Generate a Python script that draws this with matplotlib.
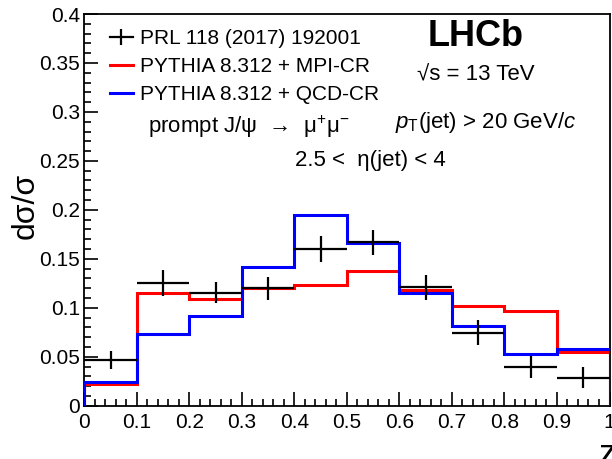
import matplotlib
matplotlib.use("Agg")
import matplotlib.pyplot as plt
from matplotlib.lines import Line2D
from matplotlib.ticker import MultipleLocator
import numpy as np

plt.rcParams['font.family'] = ['Liberation Sans', 'DejaVu Sans']
plt.rcParams['mathtext.fontset'] = 'custom'
plt.rcParams['mathtext.rm'] = 'Liberation Sans'
plt.rcParams['mathtext.it'] = 'Liberation Sans:italic'
plt.rcParams['mathtext.bf'] = 'Liberation Sans:bold'

# ---- data ----
bin_edges = [0.0, 0.1, 0.2, 0.3, 0.4, 0.5, 0.6, 0.7, 0.8, 0.9, 1.0]
data_vals = [0.0466, 0.1255, 0.1153, 0.1198, 0.1600, 0.1667, 0.1208, 0.0745, 0.0392, 0.0286]
data_errs = [0.0095, 0.0130, 0.0107, 0.0120, 0.0136, 0.0128, 0.0129, 0.0129, 0.0114, 0.0110]
mpi_cr = [0.0218, 0.1150, 0.1086, 0.1200, 0.1230, 0.1378, 0.1180, 0.1017, 0.0970, 0.0551]
qcd_cr = [0.0245, 0.0732, 0.0915, 0.1418, 0.1946, 0.1663, 0.1147, 0.0817, 0.0528, 0.0579]

label_data = "PRL 118 (2017) 192001"
label_mpi = "PYTHIA 8.312 + MPI-CR"
label_qcd = "PYTHIA 8.312 + QCD-CR"

W, H = 612, 459
fig = plt.figure(figsize=(W / 100, H / 100), dpi=100)
left, right, bottom, top = 84.3, 609.5, 405.7, 14.0
ax = fig.add_axes([left / W, 1 - bottom / H, (right - left) / W, (bottom - top) / H])

edges = np.array(bin_edges)
centers = 0.5 * (edges[:-1] + edges[1:])
half = 0.5 * np.diff(edges)

ax.stairs(mpi_cr, edges, color='#ff0000', lw=2.2, zorder=3)
ax.stairs(qcd_cr, edges, color='#0000ff', lw=2.2, zorder=4)
ax.errorbar(centers, data_vals, xerr=half, yerr=data_errs, fmt='none',
            ecolor='black', elinewidth=1.6, capsize=0, zorder=5)

ax.set_xlim(0, 1)
ax.set_ylim(0, 0.4)
xt = np.round(np.arange(0, 1.01, 0.1), 1)
ax.set_xticks(xt)
ax.set_xticklabels(['0', '0.1', '0.2', '0.3', '0.4', '0.5', '0.6', '0.7', '0.8', '0.9', '1'])
yt = np.round(np.arange(0, 0.401, 0.05), 2)
ax.set_yticks(yt)
ax.set_yticklabels(['0', '0.05', '0.1', '0.15', '0.2', '0.25', '0.3', '0.35', '0.4'])
ax.xaxis.set_minor_locator(MultipleLocator(0.02))
ax.yaxis.set_minor_locator(MultipleLocator(0.01))
ax.tick_params(which='both', direction='in', top=False, right=False, labelsize=15, width=1.2)
ax.tick_params(which='major', length=10)
ax.tick_params(which='minor', length=5)
ax.tick_params(axis='y', which='major', pad=3)
ax.tick_params(axis='x', which='major', pad=5)
for s in ax.spines.values():
    s.set_linewidth(1.3)

ax.set_ylabel('dσ/σ', fontsize=23)
ax.yaxis.set_label_coords(-0.083, 0.51)
ax.set_xlabel('z', fontsize=25)
ax.xaxis.label.set_ha('left')
ax.xaxis.set_label_coords((599 - left) / (right - left), -0.082)

handles = [
    Line2D([], [], color='black', lw=1.6, marker='|', markersize=12, markeredgewidth=1.6),
    Line2D([], [], color='#ff0000', lw=2.2),
    Line2D([], [], color='#0000ff', lw=2.2),
]
ax.legend(handles, [label_data, label_mpi, label_qcd], loc='upper left',
          bbox_to_anchor=((110 - left) / (right - left), (bottom - 29) / (bottom - top)),
          frameon=False, fontsize=15, handlelength=1.1, handletextpad=0.33,
          labelspacing=0.44, borderaxespad=0, borderpad=0)

def px(x, y):
    return ((x - left) / (right - left), (bottom - y) / (bottom - top))

ax.text(*px(476, 36), 'LHCb', fontsize=26, fontweight='bold', ha='center', va='center',
        transform=ax.transAxes)
ax.text(*px(476, 75), '√s = 13 TeV', fontsize=16, ha='center', va='center',
        transform=ax.transAxes)
ax.text(*px(148, 127), 'prompt J/ψ  →  μ$^{+}$μ$^{-}$', fontsize=16, ha='left', va='center',
        transform=ax.transAxes)
ax.text(*px(395, 122), '$p_{\\mathrm{T}}$(jet) > 20 GeV/$c$', fontsize=16, ha='left', va='center',
        transform=ax.transAxes)
ax.text(*px(295, 160), '2.5 <  η(jet) < 4', fontsize=16, ha='left', va='center',
        transform=ax.transAxes)

fig.savefig('out.png', dpi=100)
